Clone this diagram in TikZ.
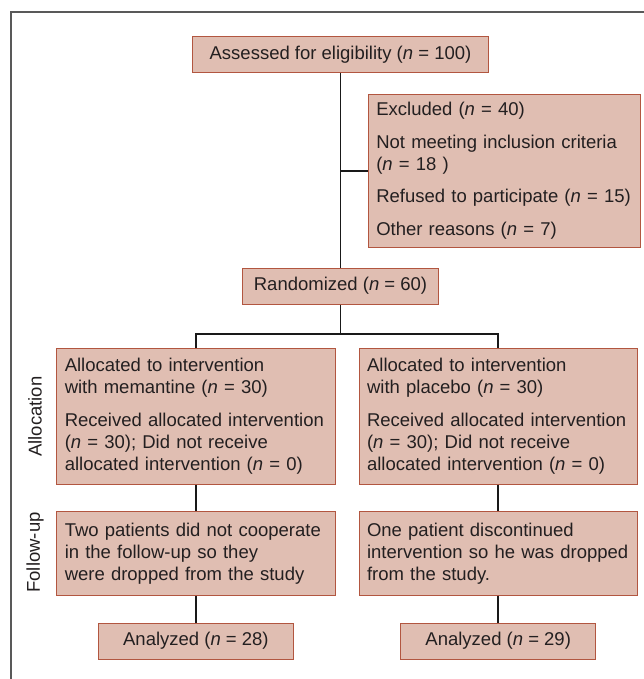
\documentclass[tikz,border=0pt]{standalone}
\usepackage{fontspec}
\setmainfont{Liberation Sans}
\usetikzlibrary{positioning}
\definecolor{boxfill}{RGB}{224,190,178}
\definecolor{boxline}{RGB}{178,86,64}
\definecolor{inkgray}{RGB}{35,31,32}
\tikzset{
    box/.style={draw=boxline, fill=boxfill, line width=1pt, inner sep=0pt, text=inkgray, font=\fontsize{18.5}{22}\selectfont},
    textbox/.style={box, align=left, inner xsep=8pt, text width=#1},
    link/.style={line width=1.8pt, color=black!90},
    sidelabel/.style={rotate=90, text=inkgray, font=\fontsize{18.5}{22}\selectfont}
}
\newcommand{\nn}{\textit{n}}

\begin{document}
\begin{tikzpicture}[x=1pt, y=-1pt]
        \useasboundingbox (0,0) rectangle (644,679);
        \draw[black!65, line width=1.5pt] (11,685) -- (11,12) -- (650,12);
        %
        \node[box, minimum width=296.7pt, minimum height=35.6pt] (assess) at (340.5,54.5) {Assessed for eligibility (\nn{} = 100)};
        \node[textbox=256.2pt, minimum height=153pt] (excl) at (504.4,170.8) {Excluded (\nn{} = 40)\\[10.5pt] Not meeting inclusion criteria\\ (\nn{} = 18 )\\[10.5pt] Refused to participate (\nn{} = 15)\\[10.5pt] Other reasons (\nn{} = 7)};
        \node[box, minimum width=195.6pt, minimum height=35.7pt] (rand) at (340.5,286.2) {Randomized (\nn{} = 60)};
        \coordinate (split) at (340.5,334);
        %
        \node[textbox=262.3pt, minimum height=135.3pt] (allocL) at (195.9,416.4) {Allocated to intervention\\ with memantine (\nn{} = 30)\\[11pt] Received allocated intervention\\ (\nn{} = 30); Did not receive\\ allocated intervention (\nn{} = 0)};
        \node[textbox=262.3pt, minimum height=135.3pt] (allocR) at (498.2,416.4) {Allocated to intervention\\ with placebo (\nn{} = 30)\\[11pt] Received allocated intervention\\ (\nn{} = 30); Did not receive\\ allocated intervention (\nn{} = 0)};
        \node[textbox=262.3pt, minimum height=83.3pt] (followL) at (195.9,553.4) {Two patients did not cooperate\\ in the follow-up so they\\ were dropped from the study};
        \node[textbox=262.3pt, minimum height=83.3pt] (followR) at (498.2,553.4) {One patient discontinued\\ intervention so he was dropped\\ from the study.};
        \node[box, minimum width=195pt, minimum height=35.7pt] (anaL) at (195.9,641.2) {Analyzed (\nn{} = 28)};
        \node[box, minimum width=195pt, minimum height=35.7pt] (anaR) at (498.2,641.2) {Analyzed (\nn{} = 29)};
        %
        \node[sidelabel] (allocLabel) at (35,416.7) {Allocation};
        \node[sidelabel] (followLabel) at (35,552.5) {Follow-up};
        %
        \draw[link] (assess.south) -- (rand.north);
        \draw[link] (excl.west) -- (excl.west -| assess.south);
        \draw[link] (rand.south) -- (split);
        \draw[link] (allocL.north) |- (split) -| (allocR.north);
        \draw[link] (allocL) -- (followL);
        \draw[link] (allocR) -- (followR);
        \draw[link] (followL) -- (anaL);
        \draw[link] (followR) -- (anaR);
\end{tikzpicture}
\end{document}
